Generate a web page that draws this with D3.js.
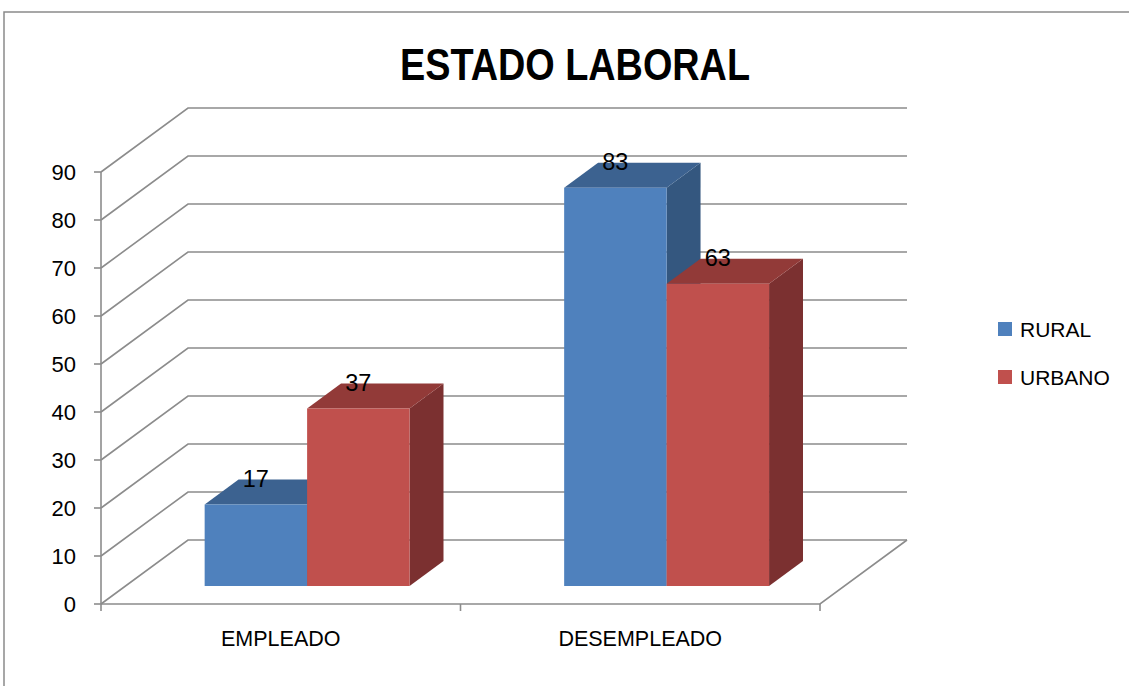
<!DOCTYPE html>
<html>
<head>
<meta charset="utf-8">
<script src="https://cdn.jsdelivr.net/npm/d3@7"></script>
<style>
  body { margin: 0; background: #fff; }
  text { font-family: "Liberation Sans", Arial, sans-serif; fill: #000; }
</style>
</head>
<body>
<div id="chart"></div>
<script>
var categories = ["EMPLEADO", "DESEMPLEADO"];
var series = ["RURAL", "URBANO"];
var rural = [17, 83];
var urbano = [37, 63];
var yTicks = [0, 10, 20, 30, 40, 50, 60, 70, 80, 90];

var W = 1129, H = 686;
var depthX = 87, depthY = -64;   // oblique offset of the back wall
var z0 = 0.28, z1 = 0.67;         // bar depth range (fraction of floor)

var colors = {
  RURAL:  {front: "#4f81bd", top: "#3c6290", side: "#34577f"},
  URBANO: {front: "#c0504d", top: "#923a38", side: "#7b3030"}
};

var svg = d3.select("#chart").append("svg")
  .attr("width", W).attr("height", H);

// outer frame
svg.append("path")
  .attr("d", "M4,686 L4,12 L1129,12")
  .attr("fill", "none").attr("stroke", "#8a8a8a").attr("stroke-width", 1.5);

var y = d3.scaleLinear().domain([0, 90]).range([604, 172]);
var x = d3.scaleBand().domain(categories).range([103, 822])
  .paddingInner(0.43).paddingOuter(0.215);
var xs = d3.scaleBand().domain(series).range([0, x.bandwidth()]);
var cat = d3.scaleBand().domain(categories).range([101, 820]);

function P(px, v, z) { return [px + z * depthX, y(v) + z * depthY]; }

var grid = svg.append("g").attr("stroke", "#8c8c8c").attr("stroke-width", 1.6).attr("fill", "none");

// back wall gridlines + side wall diagonals
yTicks.forEach(function (t) {
  var a = P(101, t, 0), b = P(101, t, 1), c = P(820, t, 1);
  grid.append("path").attr("d", "M" + a + "L" + b + "L" + c);
});

// floor front and right edges
grid.append("path").attr("d", "M" + P(101, 0, 0) + "L" + P(820, 0, 0) + "L" + P(820, 0, 1));

// y axis
grid.append("line").attr("x1", 101).attr("x2", 101).attr("y1", y(90)).attr("y2", y(0));
yTicks.forEach(function (t) {
  grid.append("line").attr("x1", 94).attr("x2", 101).attr("y1", y(t)).attr("y2", y(t));
});
// x ticks
[101, 101 + cat.step(), 820].forEach(function (px) {
  grid.append("line").attr("x1", px).attr("x2", px).attr("y1", y(0)).attr("y2", y(0) + 7);
});

svg.append("g").selectAll("text").data(yTicks).enter().append("text")
  .attr("x", 76).attr("y", function (d) { return y(d); })
  .attr("dy", "0.36em").attr("text-anchor", "end")
  .style("font-size", "22px").text(function (d) { return d; });

svg.append("g").selectAll("text").data(categories).enter().append("text")
  .attr("x", function (d) { return cat(d) + cat.bandwidth() / 2; })
  .attr("y", 646).attr("text-anchor", "middle")
  .style("font-size", "21.5px").text(function (d) { return d; });

// bars
var bars = [];
categories.forEach(function (c, i) {
  bars.push({cat: c, s: "RURAL", v: rural[i]});
  bars.push({cat: c, s: "URBANO", v: urbano[i]});
});

var gb = svg.append("g");
bars.forEach(function (d) {
  var xl = x(d.cat) + xs(d.s), xr = xl + xs.bandwidth();
  var fl0 = P(xl, 0, z0), fr0 = P(xr, 0, z0), flt = P(xl, d.v, z0), frt = P(xr, d.v, z0);
  var blt = P(xl, d.v, z1), brt = P(xr, d.v, z1), br0 = P(xr, 0, z1);
  var col = colors[d.s];
  gb.append("path").attr("fill", col.side)
    .attr("d", "M" + fr0 + "L" + frt + "L" + brt + "L" + br0 + "Z");
  gb.append("path").attr("fill", col.top)
    .attr("d", "M" + flt + "L" + frt + "L" + brt + "L" + blt + "Z");
  gb.append("path").attr("fill", col.front)
    .attr("d", "M" + fl0 + "L" + flt + "L" + frt + "L" + fr0 + "Z");
  gb.append("text")
    .attr("x", (flt[0] + frt[0]) / 2).attr("y", blt[1] + 7)
    .attr("text-anchor", "middle").style("font-size", "23.5px").text(d.v);
});

// title
svg.append("text").attr("x", 575).attr("y", 80).attr("text-anchor", "middle")
  .attr("textLength", 350).attr("lengthAdjust", "spacingAndGlyphs")
  .style("font-size", "44px").style("font-weight", "bold").text("ESTADO LABORAL");

// legend
var lg = svg.append("g").selectAll("g").data(series).enter().append("g")
  .attr("transform", function (d, i) { return "translate(998," + (322 + i * 48) + ")"; });
lg.append("rect").attr("width", 14).attr("height", 14)
  .attr("fill", function (d) { return colors[d].front; });
lg.append("text").attr("x", 22).attr("y", 7).attr("dy", "0.36em")
  .style("font-size", "21px").text(function (d) { return d; });
</script>
</body>
</html>
